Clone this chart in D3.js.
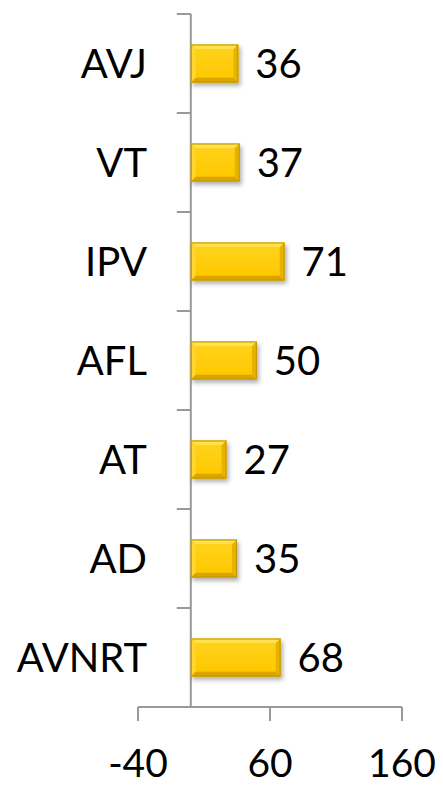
<!DOCTYPE html>
<html><head><meta charset="utf-8">
<script src="https://cdn.jsdelivr.net/npm/d3@7"></script>
<style>html,body{margin:0;padding:0;background:#fff;}svg{display:block;}</style>
</head><body>
<svg id="c" width="443" height="786"></svg>
<script>
const categories = ["AVJ","VT","IPV","AFL","AT","AD","AVNRT"];
const values = [36,37,71,50,27,35,68];
const xTicks = [-40,60,160];

const svg = d3.select("#c");
const font = "Lato, 'Open Sans', sans-serif";
const x = d3.scaleLinear().domain([-40,160]).range([138,402]);
const y = d3.scaleBand().domain(categories).range([14,707]).paddingInner(0.616).paddingOuter(0.308);

const defs = svg.append("defs");
const f = defs.append("filter").attr("id","sh").attr("x","-20%").attr("y","-30%").attr("width","150%").attr("height","180%");
f.append("feDropShadow").attr("dx",2).attr("dy",3).attr("stdDeviation",2).attr("flood-color","#000").attr("flood-opacity",0.3);
const g1 = defs.append("linearGradient").attr("id","face").attr("x1",0).attr("y1",0).attr("x2",0).attr("y2",1);
g1.append("stop").attr("offset","0%").attr("stop-color","#FFD21A");
g1.append("stop").attr("offset","100%").attr("stop-color","#FFC800");

const axisColor = "#999";
svg.append("line").attr("x1",x(0)).attr("x2",x(0)).attr("y1",y.range()[0]).attr("y2",y.range()[1])
  .attr("stroke",axisColor).attr("stroke-width",2);
svg.append("line").attr("x1",x(-40)).attr("x2",x(160)).attr("y1",y.range()[1]).attr("y2",y.range()[1])
  .attr("stroke",axisColor).attr("stroke-width",2);
const half = y.step()*y.paddingInner()/2;
const bounds = categories.map(c => y(c)-half).concat([y.range()[1]]);
svg.selectAll(".bt").data(bounds).join("line")
  .attr("x1",x(0)-14).attr("x2",x(0)).attr("y1",d=>d).attr("y2",d=>d)
  .attr("stroke",axisColor).attr("stroke-width",2);
svg.selectAll(".xt").data(xTicks).join("line")
  .attr("x1",d=>x(d)).attr("x2",d=>x(d)).attr("y1",y.range()[1]).attr("y2",y.range()[1]+14)
  .attr("stroke",axisColor).attr("stroke-width",2);
svg.selectAll(".xl").data(xTicks).join("text")
  .attr("x",d=>x(d)).attr("y",777).attr("text-anchor","middle")
  .attr("font-family",font).attr("font-size",39).attr("fill","#000").text(d=>d);

const data = categories.map((c,i)=>({c, v: values[i]}));
const b = 5;
const bars = svg.selectAll(".bar").data(data).join("g").attr("filter","url(#sh)");
bars.each(function(d){
  const g = d3.select(this);
  const x0 = x(0), x1 = x(d.v), y0 = y(d.c), y1 = y0 + y.bandwidth();
  g.append("rect").attr("x",x0).attr("y",y0).attr("width",x1-x0).attr("height",y1-y0).attr("fill","#F5C000");
  const pts = a => a.map(p=>p.join(",")).join(" ");
  g.append("polygon").attr("points",pts([[x0,y0],[x1,y0],[x1-b,y0+b],[x0+b,y0+b]])).attr("fill","#FFE24D");
  g.append("polygon").attr("points",pts([[x0,y1],[x1,y1],[x1-b,y1-b],[x0+b,y1-b]])).attr("fill","#D9A600");
  g.append("polygon").attr("points",pts([[x0,y0],[x0+b,y0+b],[x0+b,y1-b],[x0,y1]])).attr("fill","#FFD633");
  g.append("polygon").attr("points",pts([[x1,y0],[x1-b,y0+b],[x1-b,y1-b],[x1,y1]])).attr("fill","#E6B400");
  g.append("rect").attr("x",x0+b).attr("y",y0+b).attr("width",Math.max(0,x1-x0-2*b)).attr("height",y1-y0-2*b).attr("fill","url(#face)");
  g.append("rect").attr("x",x0+0.5).attr("y",y0+0.5).attr("width",x1-x0-1).attr("height",y1-y0-1)
    .attr("fill","none").attr("stroke","#C29300").attr("stroke-width",1);
});

svg.selectAll(".vl").data(data).join("text")
  .attr("x",d=>x(d.v)+17).attr("y",d=>y(d.c)+y.bandwidth()/2+14.5)
  .attr("font-family",font).attr("font-size",40).attr("fill","#000").text(d=>d.v);
svg.selectAll(".cl").data(data).join("text")
  .attr("x",147).attr("y",d=>y(d.c)+y.bandwidth()/2+14.5).attr("text-anchor","end")
  .attr("font-family",font).attr("font-size",40).attr("fill","#000").text(d=>d.c);
</script>
</body></html>
